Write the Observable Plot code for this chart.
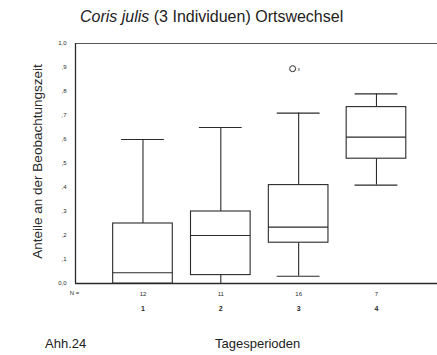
<!DOCTYPE html>
<html>
<head>
<meta charset="utf-8">
<script src="https://cdn.jsdelivr.net/npm/d3@7"></script>
<script src="https://cdn.jsdelivr.net/npm/@observablehq/plot@0.6"></script>
<style>
  body { margin: 0; background: #fff; font-family: "Liberation Sans", Arial, sans-serif; color: #222; }
  #wrap { width: 437px; }
  #title { height: 33px; line-height: 33px; font-size: 16px; padding-left: 80px; white-space: nowrap; }
  #caption { position: relative; height: 20px; font-size: 13px; }
  #caption span { position: absolute; top: 1px; line-height: 16px; }
</style>
</head>
<body>
<div id="wrap">
  <div id="title"><i>Coris julis</i> (3 Individuen) Ortswechsel</div>
  <div id="chart"></div>
  <div id="caption"><span style="left:45px">Ahh.24</span><span style="left:215px">Tagesperioden</span></div>
</div>
<script>
// Data
const categories = [1, 2, 3, 4];
const categoryLabels = ["1", "2", "3", "4"];
const counts = ["12", "11", "16", "7"];
const whiskerLow = [0.0, 0.0, 0.03, 0.41];
const q1 = [0.0, 0.035, 0.17, 0.52];
const median = [0.045, 0.2, 0.235, 0.61];
const q3 = [0.25, 0.3, 0.41, 0.735];
const whiskerHigh = [0.6, 0.65, 0.71, 0.79];
const outlierCategory = [3];
const outlierValue = [0.895];
const yTicks = [0, 0.1, 0.2, 0.3, 0.4, 0.5, 0.6, 0.7, 0.8, 0.9, 1.0];
const yTickLabels = ["0,0", ",1", ",2", ",3", ",4", ",5", ",6", ",7", ",8", ",9", "1,0"];

const boxes = categories.map((c, i) => ({
  cat: c, low: whiskerLow[i], q1: q1[i], med: median[i], q3: q3[i], high: whiskerHigh[i]
}));
const outliers = outlierCategory.map((c, i) => ({cat: c, v: outlierValue[i]}));

const xDomain = [0.133, 4.784];
const boxHalf = 0.383, capHalf = 0.275;
const ink = "#2a2a2a";

const chart = Plot.plot({
  width: 437,
  height: 302,
  marginTop: 10,
  marginBottom: 52,
  marginLeft: 75,
  marginRight: 0,
  style: {fontFamily: "Liberation Sans, Arial, sans-serif", color: ink, background: "white"},
  x: {domain: xDomain, axis: null},
  y: {domain: [0, 1], axis: null},
  marks: [
    Plot.ruleY([0], {stroke: ink, strokeWidth: 1.3}),
    Plot.ruleY([1], {stroke: "#555", strokeWidth: 1}),
    Plot.ruleX([xDomain[0]], {y1: 0, y2: 1, stroke: ink, strokeWidth: 1.3}),
    // whiskers
    Plot.ruleX(boxes, {x: "cat", y1: "q3", y2: "high", stroke: ink, strokeWidth: 1.1}),
    Plot.ruleX(boxes, {x: "cat", y1: "low", y2: "q1", stroke: ink, strokeWidth: 1.1}),
    Plot.ruleY(boxes, {y: "high", x1: d => d.cat - capHalf, x2: d => d.cat + capHalf, stroke: ink, strokeWidth: 1.1}),
    Plot.ruleY(boxes, {y: "low", x1: d => d.cat - capHalf, x2: d => d.cat + capHalf, stroke: ink, strokeWidth: 1.1}),
    // boxes
    Plot.rect(boxes, {x1: d => d.cat - boxHalf, x2: d => d.cat + boxHalf, y1: "q1", y2: "q3", fill: "white", stroke: ink, strokeWidth: 1.1}),
    Plot.ruleY(boxes, {y: "med", x1: d => d.cat - boxHalf, x2: d => d.cat + boxHalf, stroke: ink, strokeWidth: 1.1}),
    // outlier
    Plot.dot(outliers, {x: "cat", y: "v", r: 3, stroke: ink, strokeWidth: 1, dx: -6}),
    Plot.text(outliers, {x: "cat", y: "v", text: () => "x", fontSize: 5, dx: 0, dy: 1}),
    // y axis
    Plot.axisY(yTicks, {label: null, tickSize: 0, tickPadding: 9, fontSize: 6, tickFormat: d => yTickLabels[yTicks.indexOf(d)]}),
    Plot.text(["Anteile an der Beobachtungszeit"], {frameAnchor: "left", textAnchor: "middle", rotate: -90, dx: -38, dy: -2, fontSize: 13.5}),
    // counts row
    Plot.axisX(categories, {label: null, tickSize: 0, tickPadding: 8, fontSize: 6, tickFormat: d => counts[categories.indexOf(d)]}),
    Plot.text(["N ="], {x: xDomain[0], frameAnchor: "bottom", dy: 11, dx: -1, fontSize: 6}),
    // category labels
    Plot.axisX(categories, {label: null, tickSize: 0, tickPadding: 23, fontSize: 7, fontWeight: "bold", tickFormat: d => categoryLabels[categories.indexOf(d)]})
  ]
});
document.getElementById("chart").appendChild(chart);
</script>
</body>
</html>
